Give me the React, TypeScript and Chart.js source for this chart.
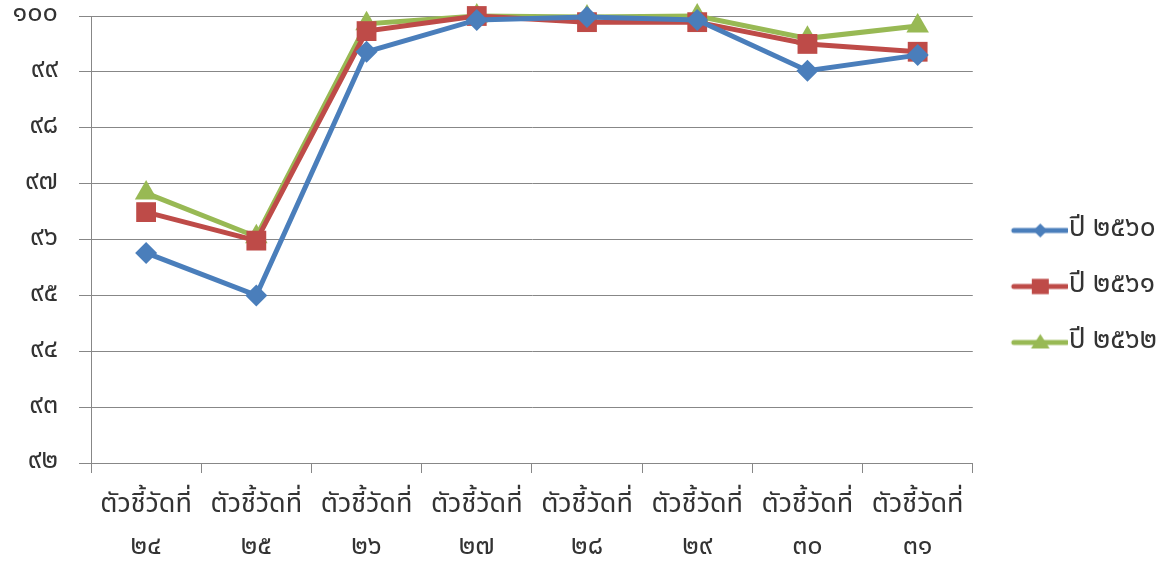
import React, { useEffect, useRef } from 'react';
import { Chart, registerables } from 'chart.js';

Chart.register(...registerables);

const categories: string[][] = [
  ['ตัวชี้วัดที่', '๒๔'],
  ['ตัวชี้วัดที่', '๒๕'],
  ['ตัวชี้วัดที่', '๒๖'],
  ['ตัวชี้วัดที่', '๒๗'],
  ['ตัวชี้วัดที่', '๒๘'],
  ['ตัวชี้วัดที่', '๒๙'],
  ['ตัวชี้วัดที่', '๓๐'],
  ['ตัวชี้วัดที่', '๓๑'],
];
const seriesNames = ['ปี ๒๕๖๐', 'ปี ๒๕๖๑', 'ปี ๒๕๖๒'];
const values2560 = [95.76, 95.0, 99.36, 99.93, 99.98, 99.93, 99.02, 99.3];
const values2561 = [96.49, 95.98, 99.73, 100, 99.89, 99.89, 99.5, 99.36];
const values2562 = [96.83, 96.05, 99.86, 100, 99.98, 100, 99.6, 99.82];
const yTickLabels = ['๙๒', '๙๓', '๙๔', '๙๕', '๙๖', '๙๗', '๙๘', '๙๙', '๑๐๐'];

const COLORS = ['#4A7EBB', '#BE4B48', '#98B954'];
const FONT = "'Noto Sans Thai', 'Noto Sans', 'DejaVu Sans', sans-serif";
const TEXT = '#333333';
const GRID = '#878787';

function drawMarker(ctx: CanvasRenderingContext2D, style: string, x: number, y: number, r: number) {
  ctx.beginPath();
  if (style === 'rectRot') {
    ctx.moveTo(x, y - r);
    ctx.lineTo(x + r, y);
    ctx.lineTo(x, y + r);
    ctx.lineTo(x - r, y);
  } else if (style === 'rect') {
    ctx.rect(x - r, y - r * 0.9, 2 * r, 1.8 * r);
  } else {
    ctx.moveTo(x, y - r);
    ctx.lineTo(x + r * 1.1, y + r * 0.7);
    ctx.lineTo(x - r * 1.1, y + r * 0.7);
  }
  ctx.closePath();
  ctx.fill();
}

// legend icon: drawn centered on the legend box; the line spans part of it
const BOX_W = 54;
const ICON_W = 80;
function makeLegendIcon(color: string, style: string, r: number): HTMLCanvasElement {
  const c = document.createElement('canvas');
  c.width = ICON_W;
  c.height = 30;
  const ctx = c.getContext('2d')!;
  ctx.strokeStyle = color;
  ctx.fillStyle = color;
  ctx.lineWidth = 5;
  ctx.lineCap = 'round';
  const x0 = 26;
  const x1 = 79;
  ctx.beginPath();
  ctx.moveTo(x0, 15);
  ctx.lineTo(x1, 15);
  ctx.stroke();
  drawMarker(ctx, style, (x0 + x1) / 2, 15, r);
  return c;
}

const pointStyles = ['rectRot', 'rect', 'triangle'];
const pointRadii = [11, 14, 13];
const legendRadii = [7, 8.5, 8.5];

export default function App() {
  const ref = useRef<HTMLCanvasElement>(null);
  useEffect(() => {
    document.body.style.margin = '0';
    const icons = COLORS.map((c, i) => makeLegendIcon(c, pointStyles[i], legendRadii[i]));
    const seriesValues = [values2560, values2561, values2562];
    const chart = new Chart(ref.current!, {
      type: 'line',
      data: {
        labels: categories,
        datasets: seriesNames.map((name, i) => ({
          label: name,
          data: seriesValues[i],
          borderColor: COLORS[i],
          backgroundColor: COLORS[i],
          borderWidth: 5,
          pointStyle: pointStyles[i] as any,
          pointRadius: pointRadii[i],
          pointBorderWidth: 0,
          pointBackgroundColor: COLORS[i],
          tension: 0,
          clip: false as any,
        })),
      },
      options: {
        animation: false,
        responsive: false,
        maintainAspectRatio: false,
        layout: { autoPadding: false, padding: { left: 0, right: 9, top: 8, bottom: 0 } },
        plugins: {
          tooltip: { enabled: false },
          legend: {
            position: 'right',
            labels: {
              usePointStyle: true,
              pointStyleWidth: BOX_W,
              boxHeight: 20,
              padding: 28,
              color: TEXT,
              font: { family: FONT, size: 28 },
              generateLabels: (ch: any) =>
                ch.data.datasets.map((ds: any, i: number) => ({
                  text: ds.label,
                  pointStyle: icons[i],
                  fillStyle: COLORS[i],
                  strokeStyle: COLORS[i],
                  lineWidth: 0,
                  hidden: false,
                  datasetIndex: i,
                  fontColor: TEXT,
                })),
            },
          },
        },
        scales: {
          x: {
            offset: true,
            afterFit: (s: any) => {
              s.height = 102;
            },
            grid: {
              display: true,
              drawOnChartArea: false,
              drawTicks: true,
              tickLength: 10,
              offset: true,
              color: GRID,
            },
            border: { display: true, color: GRID, width: 1 },
            ticks: {
              color: TEXT,
              padding: 13,
              maxRotation: 0,
              autoSkip: false,
              font: { family: FONT, size: 27, lineHeight: 1.555 },
            },
          },
          y: {
            min: 92,
            max: 100,
            afterFit: (s: any) => {
              s.width = 91;
              s.paddingTop = 16;
            },
            grid: {
              color: GRID,
              drawTicks: true,
              tickLength: 12,
            },
            border: { display: true, color: GRID, width: 1 },
            ticks: {
              stepSize: 1,
              padding: 21,
              color: TEXT,
              font: { family: FONT, size: 27 },
              callback: (v: any) => yTickLabels[Math.round(Number(v)) - 92] ?? '',
            },
          },
        },
      },
    });
    return () => chart.destroy();
  }, []);
  return (
    <div style={{ width: 1176, height: 565 }}>
      <canvas ref={ref} width={1176} height={565} style={{ display: 'block' }} />
    </div>
  );
}
